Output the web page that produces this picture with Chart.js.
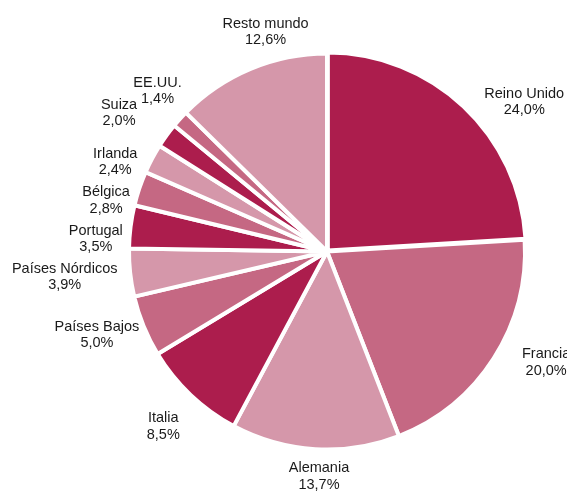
<!DOCTYPE html>
<html>
<head>
<meta charset="utf-8">
<script src="https://cdn.jsdelivr.net/npm/chart.js@4"></script>
<style>
  html, body { margin: 0; padding: 0; background: #ffffff; }
  #wrap { width: 567px; height: 491px; }
</style>
</head>
<body>
<div id="wrap"><canvas id="c" width="567" height="491"></canvas></div>
<script>
// ---- data ----
const categories = ["Reino Unido", "Francia", "Alemania", "Italia", "Países Bajos", "Países Nórdicos",
                    "Portugal", "Bélgica", "Irlanda", "Suiza", "EE.UU.", "Resto mundo"];
const shares = [24.0, 20.0, 13.7, 8.5, 5.0, 3.9, 3.5, 2.8, 2.4, 2.0, 1.4, 12.6];

// ---- styling / layout (kept apart from data) ----
const dark = "#ac1d4d", mid = "#c56883", light = "#d597aa";
const sliceColors = [dark, mid, light, dark, mid, light, dark, mid, light, dark, mid, light];
const sliceOffsets = [5, 0, 0, 0, 0, 0, 0, 0, 0, 0, 0, 0];
// small label nudges (px) applied after the generic outside-end placement
const labelNudge = [[30, 11], [27, -8], [6, 5], [-12, 15], [-2, 0], [-7, 2],
                    [-2, 15], [-5, 19], [-12, 14], [-28, -9], [0, -13], [34, -16]];

const fmt = v => v.toFixed(1).replace('.', ',') + '%';

const labelPlugin = {
  id: 'outsideLabels',
  afterDatasetsDraw(chart) {
    const ctx = chart.ctx;
    const meta = chart.getDatasetMeta(0);
    ctx.save();
    ctx.font = '14.5px "Liberation Sans", Arial, sans-serif';
    ctx.fillStyle = '#1a1a1a';
    ctx.textAlign = 'center';
    ctx.textBaseline = 'middle';
    const lineH = 16.5;
    meta.data.forEach((arc, i) => {
      const p = arc.getProps(['x', 'y', 'startAngle', 'endAngle', 'outerRadius'], true);
      const a = (p.startAngle + p.endAngle) / 2;
      const dx = Math.cos(a), dy = Math.sin(a);
      const l1 = categories[i], l2 = fmt(shares[i]);
      const w = Math.max(ctx.measureText(l1).width, ctx.measureText(l2).width);
      const h = lineH * 2;
      const D = p.outerRadius + 6;
      const cx = p.x + D * dx + (w / 2) * dx + labelNudge[i][0];
      const cy = p.y + D * dy + (h / 2) * dy + labelNudge[i][1];
      ctx.fillText(l1, cx, cy - lineH / 2);
      ctx.fillText(l2, cx, cy + lineH / 2);
    });
    ctx.restore();
  }
};

new Chart(document.getElementById('c'), {
  type: 'pie',
  data: {
    labels: categories,
    datasets: [{
      data: shares,
      backgroundColor: sliceColors,
      borderColor: '#ffffff',
      borderWidth: 4,
      offset: sliceOffsets,
      hoverOffset: 0
    }]
  },
  options: {
    responsive: false,
    animation: false,
    radius: 198,
    layout: { padding: { left: 87, right: 0, top: 12, bottom: 0 } },
    plugins: { legend: { display: false }, tooltip: { enabled: false } },
    events: []
  },
  plugins: [labelPlugin]
});
</script>
</body>
</html>
